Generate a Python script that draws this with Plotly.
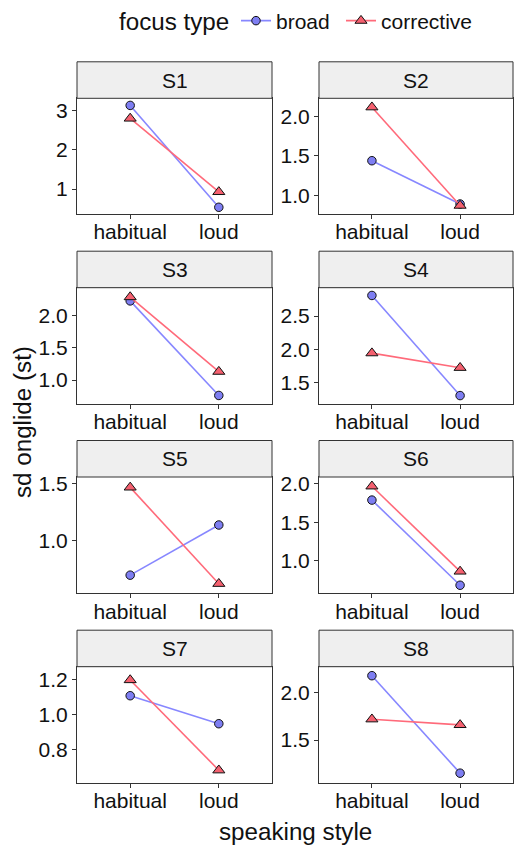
import plotly.graph_objects as go

panels = ["S1", "S2", "S3", "S4", "S5", "S6", "S7", "S8"]
styles = ["habitual", "loud"]
broad = [[3.12, 0.54], [1.44, 0.89], [2.23, 0.76], [2.81, 1.30],
         [0.70, 1.14], [1.79, 0.68], [1.11, 0.95], [2.18, 1.15]]
corrective = [[2.79, 0.93], [2.12, 0.87], [2.29, 1.13], [1.94, 1.72],
              [1.47, 0.625], [1.97, 0.86], [1.20, 0.684], [1.72, 1.66]]
y_limits = [[0.37, 3.30], [0.763, 2.233], [0.627, 2.435], [1.173, 2.927],
            [0.541, 1.561], [0.575, 2.091], [0.611, 1.276], [1.046, 2.275]]
y_tickvals = [[1, 2, 3], [1.0, 1.5, 2.0], [1.0, 1.5, 2.0], [1.5, 2.0, 2.5],
              [1.0, 1.5], [1.0, 1.5, 2.0], [0.8, 1.0, 1.2], [1.5, 2.0]]
y_ticktext = [["1", "2", "3"], ["1.0", "1.5", "2.0"], ["1.0", "1.5", "2.0"],
              ["1.5", "2.0", "2.5"], ["1.0", "1.5"], ["1.0", "1.5", "2.0"],
              ["0.8", "1.0", "1.2"], ["1.5", "2.0"]]

W, H = 514, 847
FONT = "Liberation Sans, Arial, Helvetica, sans-serif"
TXT = "#111111"
BORDER = "#333333"
C_BROAD_LINE, C_BROAD_FILL = "#8787FF", "#7E7EF2"
C_COR_LINE, C_COR_FILL = "#FF6A7A", "#F5606F"
TICK_SIZE = 21
TITLE_SIZE = 24.2

col_x = [(77, 272), (319, 513)]
row_y = [(98.3, 214), (287.7, 404), (477, 593.3), (666.7, 783)]
STRIP = 36.5

fig = go.Figure()
shapes, annotations = [], []

for i, name in enumerate(panels):
    r, c = divmod(i, 2)
    x0, x1 = col_x[c]
    top, bot = row_y[r]
    n = i + 1
    xa = "x" if n == 1 else f"x{n}"
    ya = "y" if n == 1 else f"y{n}"
    fig.add_trace(go.Scatter(
        x=styles, y=broad[i], xaxis=xa, yaxis=ya, mode="lines+markers",
        name="broad", legendgroup="broad", showlegend=(i == 0),
        legend="legend",
        line=dict(color=C_BROAD_LINE, width=1.6),
        marker=dict(symbol="circle", size=8.5, color=C_BROAD_FILL,
                    line=dict(color="#111111", width=1))))
    fig.add_trace(go.Scatter(
        x=styles, y=corrective[i], xaxis=xa, yaxis=ya, mode="lines+markers",
        name="corrective", legendgroup="corrective", showlegend=(i == 0),
        legend="legend2",
        line=dict(color=C_COR_LINE, width=1.6),
        marker=dict(symbol="triangle-up", size=10.5, color=C_COR_FILL,
                    line=dict(color="#111111", width=1))))
    xkey = "xaxis" if n == 1 else f"xaxis{n}"
    ykey = "yaxis" if n == 1 else f"yaxis{n}"
    fig.layout[xkey] = dict(
        domain=[x0 / W, x1 / W], anchor=ya, type="category",
        categoryorder="array", categoryarray=styles, range=[-0.6, 1.6],
        showline=True, mirror=True, linecolor=BORDER, linewidth=1,
        ticks="outside", ticklen=4, tickcolor=BORDER, tickwidth=1,
        ticklabelstandoff=-5,
        showgrid=False, zeroline=False, fixedrange=True, automargin=False,
        tickfont=dict(family=FONT, size=TICK_SIZE, color=TXT))
    fig.layout[ykey] = dict(
        domain=[1 - bot / H, 1 - top / H], anchor=xa, range=y_limits[i],
        tickmode="array", tickvals=y_tickvals[i], ticktext=y_ticktext[i],
        showline=True, mirror=True, linecolor=BORDER, linewidth=1,
        ticks="outside", ticklen=4, tickcolor=BORDER, tickwidth=1,
        showgrid=False, zeroline=False, fixedrange=True, automargin=False,
        tickfont=dict(family=FONT, size=TICK_SIZE, color=TXT))
    shapes.append(dict(type="rect", xref="paper", yref="paper",
                       x0=x0 / W, x1=x1 / W, y0=1 - top / H,
                       y1=1 - (top - STRIP) / H,
                       fillcolor="#EFEFEF", line=dict(color=BORDER, width=1),
                       layer="above"))
    annotations.append(dict(text=name, xref="paper", yref="paper",
                            x=(x0 + x1) / 2 / W, y=1 - (top - STRIP / 2) / H,
                            xanchor="center", yanchor="middle", showarrow=False,
                            font=dict(family=FONT, size=TICK_SIZE, color=TXT)))

annotations.append(dict(text="speaking style", xref="paper", yref="paper",
                        x=295 / W, y=1 - 831 / H, xanchor="center",
                        yanchor="middle", showarrow=False,
                        font=dict(family=FONT, size=TITLE_SIZE, color=TXT)))
annotations.append(dict(text="sd onglide (st)", xref="paper", yref="paper",
                        x=22 / W, y=1 - 422 / H, xanchor="center",
                        yanchor="middle", showarrow=False, textangle=-90,
                        font=dict(family=FONT, size=TITLE_SIZE, color=TXT)))
annotations.append(dict(text="focus type", xref="paper", yref="paper",
                        x=117 / W, y=1 - 21 / H, xanchor="left",
                        yanchor="middle", showarrow=False,
                        font=dict(family=FONT, size=TITLE_SIZE, color=TXT)))

legend_common = dict(orientation="h", y=1 - 21 / H, xanchor="left",
                     yanchor="middle", itemwidth=30,
                     font=dict(family=FONT, size=TICK_SIZE, color=TXT),
                     bgcolor="rgba(0,0,0,0)")

fig.update_layout(
    width=W, height=H, margin=dict(l=0, r=0, t=0, b=0, autoexpand=False),
    paper_bgcolor="white", plot_bgcolor="white",
    shapes=shapes, annotations=annotations,
    showlegend=True,
    legend=dict(x=236 / W, **legend_common),
    legend2=dict(x=341 / W, **legend_common),
)

fig.write_html("out.html", config={"displayModeBar": False},
               post_script="document.body.style.margin='0px';"
                           "document.body.style.overflow='hidden';")
